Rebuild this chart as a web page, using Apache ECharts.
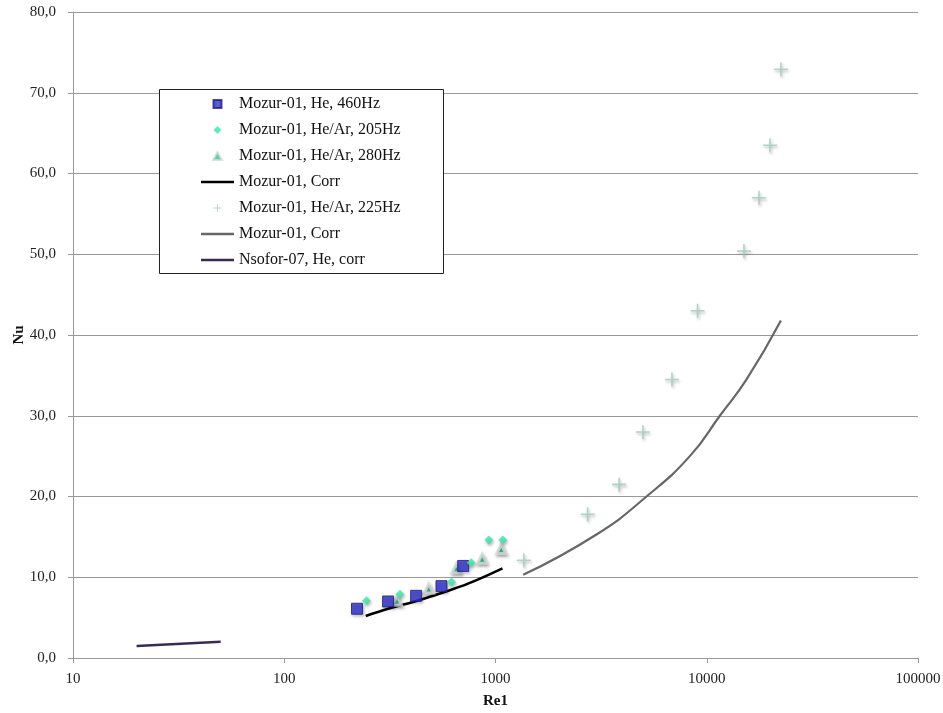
<!DOCTYPE html>
<html>
<head>
<meta charset="utf-8">
<script src="https://cdn.jsdelivr.net/npm/echarts@6/dist/echarts.min.js"></script>
<style>
  html, body { margin: 0; padding: 0; background: #fff; }
  #chart { width: 943px; height: 713px; }
</style>
</head>
<body>
<div id="chart"></div>
<script>
// values: [Re1, Nu]
const he460 = [[221, 6.1], [310, 7.0], [421, 7.7], [555, 8.9], [703, 11.4]];
const heAr205 = [[245, 7.1], [353, 7.9], [619, 9.4], [767, 11.8], [930, 14.6], [1083, 14.6]];
const heAr280 = [[342, 7.1], [483, 8.6], [653, 11.1], [865, 12.3], [1064, 13.5]];
const corrLow = [[243, 5.2], [310, 6.1], [415, 7.0], [555, 8.05], [741, 9.2], [1079, 11.1]];
const heAr225 = [
  [1362, 12.1], [2729, 17.8], [3848, 21.5], [4986, 28.0], [6844, 34.5],
  [9045, 43.0], [15000, 50.4], [17660, 57.0], [19910, 63.5], [22440, 72.9]
];
const corrHigh = [
  [1352, 10.3], [3006, 15.3], [5187, 20.0], [8318, 25.0], [11535, 30.0],
  [15430, 34.5], [22440, 41.8]
];
const nsofor = [[20, 1.5], [50, 2.0]];

const seriesNames = [
  "Mozur-01, He, 460Hz",
  "Mozur-01, He/Ar, 205Hz",
  "Mozur-01, He/Ar, 280Hz",
  "Mozur-01, Corr",
  "Mozur-01, He/Ar, 225Hz",
  "Mozur-01, Corr ",
  "Nsofor-07, He, corr"
];

const font = "'Liberation Serif', 'DejaVu Serif', serif";
const plusPath = "path://M4.45,0h1.1v10h-1.1z M0,4.45h10v1.1h-10z";
const lineIcon = "path://M0,0h33v2.5h-33z";
const shadow = { shadowBlur: 3, shadowColor: "rgba(0,0,0,0.35)", shadowOffsetX: 1, shadowOffsetY: 2 };

const legendIcons = [
  "path://M0,0h8v8h-8z",
  "path://M4,0L8,4L4,8L0,4z",
  "path://M4.5,0L9,8H0z",
  lineIcon,
  plusPath,
  lineIcon,
  lineIcon
];

const chart = echarts.init(document.getElementById("chart"));
chart.setOption({
  backgroundColor: "#fff",
  animation: false,
  textStyle: { fontFamily: font },
  grid: { left: 73, right: 25, top: 12, bottom: 55, outerBoundsMode: "none" },
  graphic: [{
    type: "rect",
    shape: { x: 159.5, y: 89.5, width: 284, height: 184 },
    style: { fill: "#fff", stroke: "#222", lineWidth: 1 },
    z: 90
  }],
  legend: {
    orient: "vertical",
    left: 201,
    top: 96,
    padding: 0,
    itemWidth: 33,
    itemHeight: 8,
    itemGap: 10,
    selectedMode: false,
    symbolKeepAspect: true,
    z: 100,
    textStyle: { fontFamily: font, fontSize: 16, color: "#111" },
    data: seriesNames.map((name, i) => ({ name, icon: legendIcons[i] }))
  },
  xAxis: {
    type: "log",
    logBase: 10,
    min: 10,
    max: 100000,
    name: "Re1",
    nameLocation: "middle",
    nameGap: 36,
    nameMoveOverlap: false,
    nameTextStyle: { fontFamily: font, fontSize: 15, fontWeight: "bold", color: "#111" },
    axisLine: { lineStyle: { color: "#999", width: 1 } },
    axisTick: { show: true, length: 5, lineStyle: { color: "#999" } },
    axisLabel: {
      fontFamily: font, fontSize: 15, color: "#222", margin: 14,
      formatter: (v) => String(Math.round(v))
    },
    splitLine: { show: false },
    minorTick: { show: false }
  },
  yAxis: {
    type: "value",
    min: 0,
    max: 80,
    interval: 10,
    name: "Nu",
    nameLocation: "middle",
    nameGap: 46,
    nameMoveOverlap: false,
    nameTextStyle: { fontFamily: font, fontSize: 15, fontWeight: "bold", color: "#111" },
    axisLine: { show: true, lineStyle: { color: "#999", width: 1 } },
    axisTick: { show: true, length: 5, lineStyle: { color: "#999" } },
    axisLabel: {
      fontFamily: font, fontSize: 15, color: "#222", margin: 17,
      formatter: (v) => v.toFixed(1).replace(".", ",")
    },
    splitLine: { show: true, lineStyle: { color: "#9a9a9a", width: 1.2 } }
  },
  series: [
    {
      name: seriesNames[0],
      type: "scatter",
      symbol: "rect",
      symbolSize: 11,
      itemStyle: { color: "#2f2fc8", borderColor: "#1c1c88", borderWidth: 1, ...shadow },
      data: he460,
      z: 5
    },
    {
      name: seriesNames[1],
      type: "scatter",
      symbol: "diamond",
      symbolSize: 9,
      itemStyle: { color: "#3fe3a8", ...shadow },
      data: heAr205,
      z: 6
    },
    {
      name: seriesNames[2],
      type: "scatter",
      symbol: "triangle",
      symbolSize: 9,
      itemStyle: { color: "#22d098", borderColor: "#dadada", borderWidth: 3, ...shadow },
      data: heAr280,
      z: 4
    },
    {
      name: seriesNames[3],
      type: "line",
      symbol: "none",
      smooth: 0.4,
      itemStyle: { color: "#000" },
      lineStyle: { color: "#000", width: 2.5 },
      data: corrLow,
      z: 3
    },
    {
      name: seriesNames[4],
      type: "scatter",
      symbol: plusPath,
      symbolSize: 14,
      itemStyle: { color: "#9fcdbd", ...shadow },
      data: heAr225,
      z: 4
    },
    {
      name: seriesNames[5],
      type: "line",
      symbol: "none",
      smooth: 0.5,
      itemStyle: { color: "#676767" },
      lineStyle: { color: "#676767", width: 2.2 },
      data: corrHigh,
      z: 3
    },
    {
      name: seriesNames[6],
      type: "line",
      symbol: "none",
      itemStyle: { color: "#3a2b55" },
      lineStyle: { color: "#3a2b55", width: 2.5 },
      data: nsofor,
      z: 3
    }
  ]
});
</script>
</body>
</html>
